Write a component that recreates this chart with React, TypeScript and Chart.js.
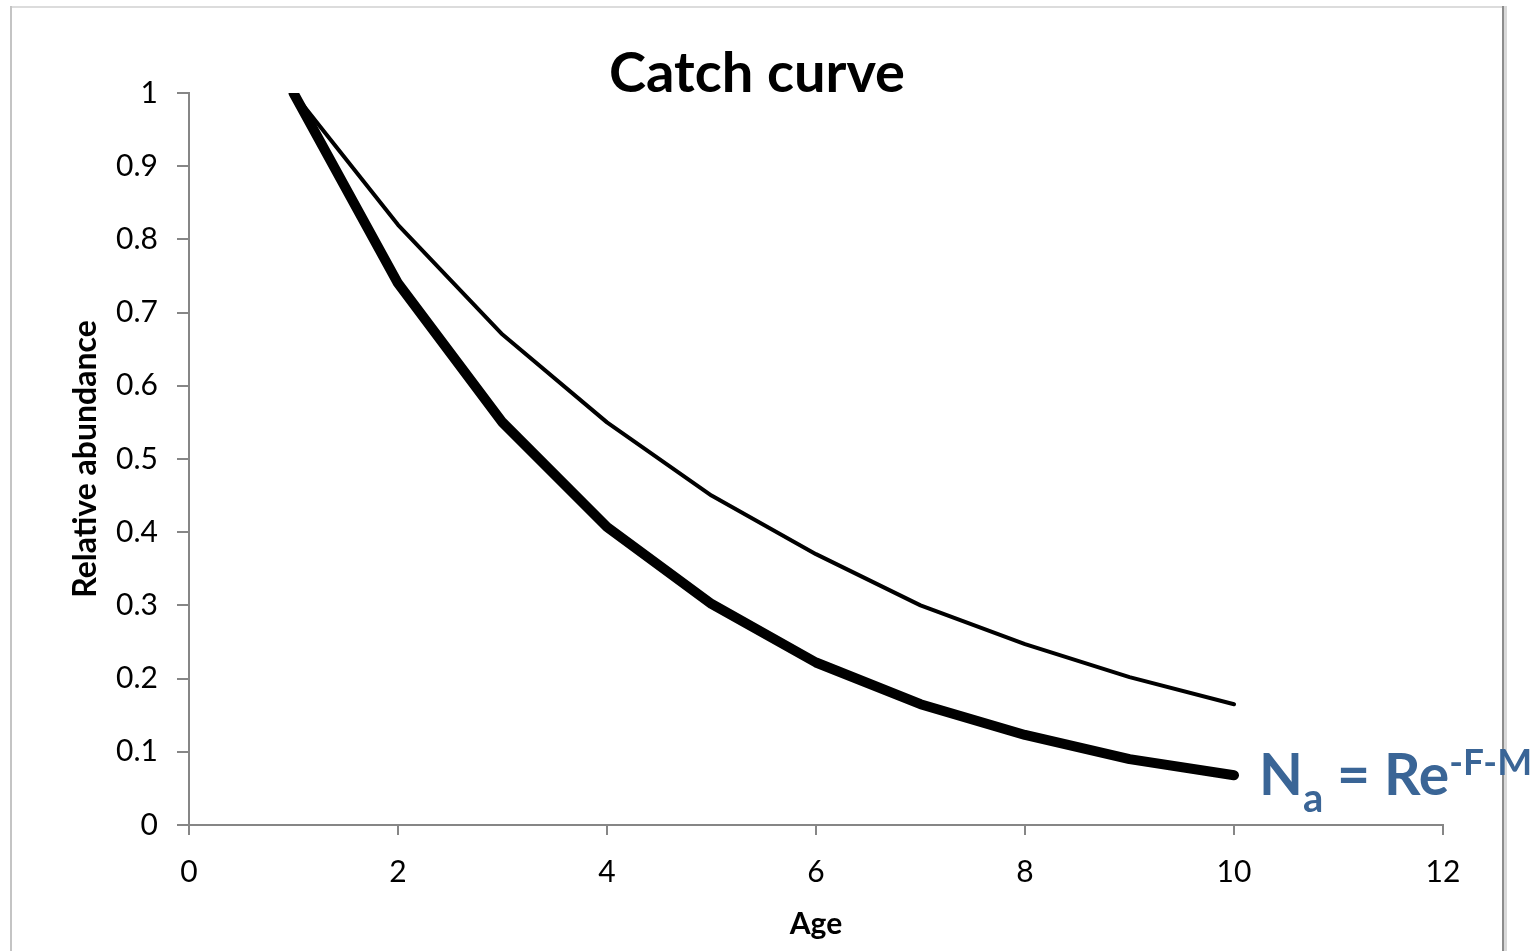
import React, { useEffect, useRef } from 'react';
import { Chart, registerables } from 'chart.js';

Chart.register(...registerables);

// Age classes (years)
const ages = [1, 2, 3, 4, 5, 6, 7, 8, 9, 10];
// Relative abundance under natural mortality only
const abundanceNatural = [1, 0.82, 0.67, 0.55, 0.45, 0.37, 0.3, 0.247, 0.202, 0.165];
// Relative abundance under fishing + natural mortality
const abundanceFished = [1, 0.74, 0.55, 0.407, 0.302, 0.222, 0.165, 0.123, 0.09, 0.068];

const xTickLabels = ['0', '2', '4', '6', '8', '10', '12'];
const yTickLabels = ['0', '0.1', '0.2', '0.3', '0.4', '0.5', '0.6', '0.7', '0.8', '0.9', '1'];

const titleText = 'Catch curve';
const xTitle = 'Age';
const yTitle = 'Relative abundance';

const FONT = 'Lato, "Open Sans", sans-serif';
const AXIS_GRAY = '#868686';
const FORMULA_BLUE = '#3A6596';

const framePlugin = {
  id: 'frameAndLabels',
  beforeDraw(chart: any) {
    const ctx = chart.ctx;
    ctx.save();
    ctx.fillStyle = '#ffffff';
    ctx.fillRect(0, 0, chart.width, chart.height);
    // outer chart border
    ctx.fillStyle = '#dcdcdc';
    ctx.fillRect(11, 6, 1496, 2);
    ctx.fillStyle = '#c4c4c4';
    ctx.fillRect(10, 6, 2, chart.height - 6);
    ctx.fillStyle = '#8c8c8c';
    ctx.fillRect(1502, 6, 2, chart.height - 6);
    ctx.fillStyle = '#d9d9d9';
    ctx.fillRect(1504, 6, 3, chart.height - 6);
    ctx.restore();
  },
  afterDraw(chart: any) {
    const ctx = chart.ctx;
    ctx.save();
    // chart title
    ctx.fillStyle = '#000000';
    ctx.font = `bold 56px ${FONT}`;
    ctx.textAlign = 'center';
    ctx.textBaseline = 'alphabetic';
    ctx.fillText(titleText, 757, 92);

    // formula next to the end of the fished curve
    const xs = chart.scales.x;
    const ys = chart.scales.y;
    const last = ages.length - 1;
    const px = xs.getPixelForValue(ages[last]);
    const py = ys.getPixelForValue(abundanceFished[last]);
    let x = px + 25;
    const base = py + 20;
    ctx.fillStyle = FORMULA_BLUE;
    ctx.textAlign = 'left';
    const parts: [string, number, number][] = [
      ['N', 57, 0],
      ['a', 40, 17],
      [' = Re', 57, 0],
      ['-F-M', 37, -20],
    ];
    for (const [txt, size, dy] of parts) {
      ctx.font = `bold ${size}px ${FONT}`;
      ctx.fillText(txt, x, base + dy);
      x += ctx.measureText(txt).width;
    }
    ctx.restore();
  },
};

export default function App() {
  const canvasRef = useRef<HTMLCanvasElement | null>(null);

  useEffect(() => {
    const canvas = canvasRef.current;
    if (!canvas) return;
    const chart = new Chart(canvas, {
      type: 'line',
      data: {
        datasets: [
          {
            label: 'F + M',
            data: ages.map((a, i) => ({ x: a, y: abundanceFished[i] })),
            borderColor: '#000000',
            borderWidth: 10,
            borderCapStyle: 'round',
            borderJoinStyle: 'round',
            pointRadius: 0,
            tension: 0,
            fill: false,
          },
          {
            label: 'M',
            data: ages.map((a, i) => ({ x: a, y: abundanceNatural[i] })),
            borderColor: '#000000',
            borderWidth: 4,
            borderCapStyle: 'round',
            borderJoinStyle: 'round',
            pointRadius: 0,
            tension: 0,
            fill: false,
          },
        ],
      },
      options: {
        responsive: false,
        maintainAspectRatio: false,
        animation: false,
        devicePixelRatio: 1,
        layout: { padding: { left: 0, top: 93, right: 97, bottom: 0 } },
        plugins: {
          legend: { display: false },
          tooltip: { enabled: false },
          title: { display: false },
        },
        scales: {
          x: {
            type: 'linear',
            min: 0,
            max: 12,
            afterFit: (scale: any) => {
              scale.height = 126;
            },
            ticks: {
              stepSize: 2,
              color: '#000000',
              padding: 19,
              font: { family: FONT, size: 30 },
              callback: (_v: any, i: number) => xTickLabels[i],
            },
            grid: {
              display: true,
              drawOnChartArea: false,
              drawTicks: true,
              tickLength: 10,
              color: AXIS_GRAY,
              lineWidth: 2,
            },
            border: { display: true, color: AXIS_GRAY, width: 2 },
            title: {
              display: true,
              text: xTitle,
              color: '#000000',
              font: { family: FONT, size: 30, weight: 'bold' },
              padding: { top: 0, bottom: 9 },
            },
          },
          y: {
            type: 'linear',
            min: 0,
            max: 1,
            afterFit: (scale: any) => {
              scale.width = 189;
            },
            ticks: {
              stepSize: 0.1,
              color: '#000000',
              padding: 19,
              font: { family: FONT, size: 30 },
              callback: (_v: any, i: number) => yTickLabels[i],
            },
            grid: {
              display: true,
              drawOnChartArea: false,
              drawTicks: true,
              tickLength: 12,
              color: AXIS_GRAY,
              lineWidth: 2,
            },
            border: { display: true, color: AXIS_GRAY, width: 2 },
            title: {
              display: true,
              text: yTitle,
              color: '#000000',
              font: { family: FONT, size: 32, weight: 'bold' },
              padding: { top: 66, bottom: 0 },
            },
          },
        },
      },
      plugins: [framePlugin],
    } as any);
    return () => chart.destroy();
  }, []);

  return (
    <div style={{ position: 'absolute', left: 0, top: 0, width: 1540, height: 951 }}>
      <canvas ref={canvasRef} width={1540} height={951} style={{ display: 'block' }} />
    </div>
  );
}
